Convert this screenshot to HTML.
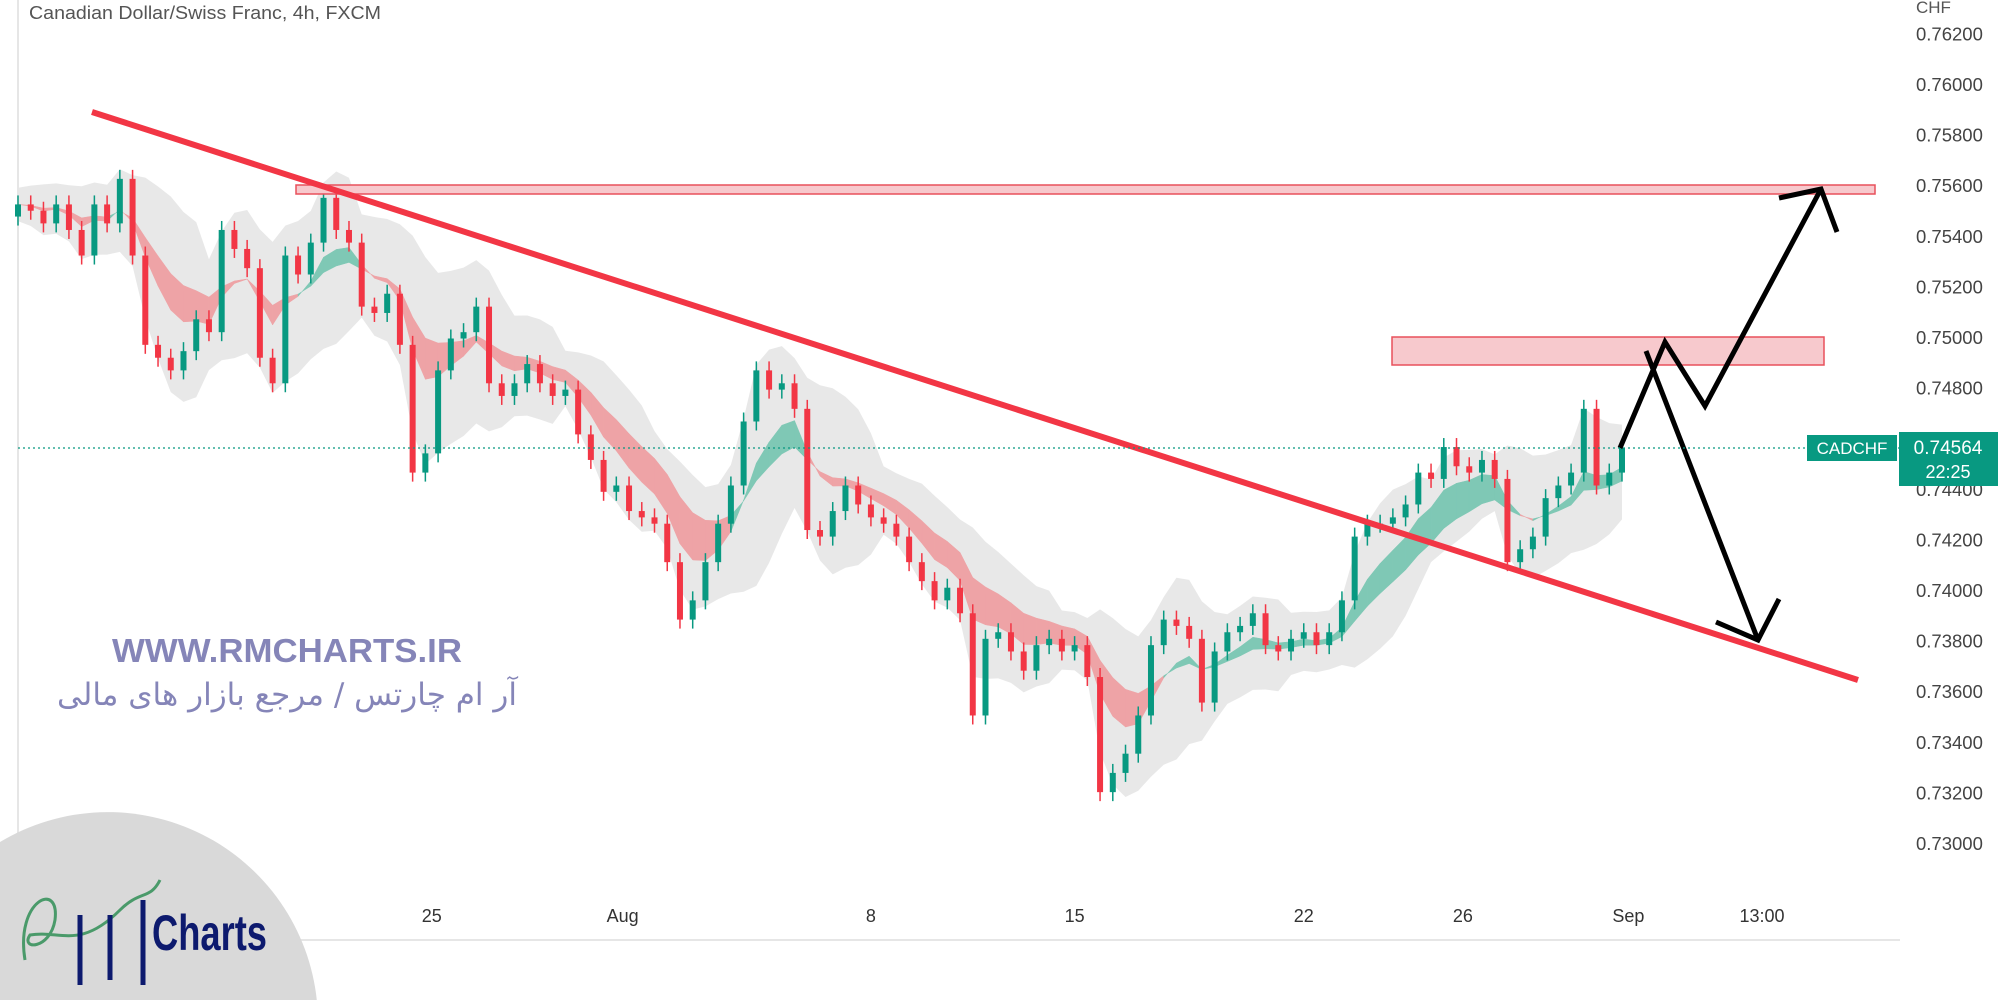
<!DOCTYPE html>
<html><head><meta charset="utf-8"><style>
html,body{margin:0;padding:0;background:#fff;width:2000px;height:1000px;overflow:hidden;}
svg{display:block;font-family:"Liberation Sans","Noto Sans CJK SC",sans-serif;}
</style></head><body>
<svg id="chart" width="2000" height="1000" viewBox="0 0 2000 1000" xmlns="http://www.w3.org/2000/svg">
<rect width="2000" height="1000" fill="#fff"/>
<line x1="18" y1="0" x2="18" y2="940" stroke="#e6e6e6" stroke-width="2"/>
<line x1="0" y1="940" x2="1900" y2="940" stroke="#e6e6e6" stroke-width="2"/>
<g id="bands"></g><g id="candles"></g>
<g id="yaxis"></g><g id="xaxis"></g>
<text x="29" y="19" font-size="18.5" fill="#555" textLength="352" lengthAdjust="spacingAndGlyphs">Canadian Dollar/Swiss Franc, 4h, FXCM</text>
<text x="1916" y="13" font-size="17" fill="#555">CHF</text>
<rect x="296" y="185" width="1579" height="9" fill="#f7c9cd" stroke="#e8505b" stroke-width="1.5"/>
<rect x="1392" y="337" width="432" height="28" fill="#f7c9cd" stroke="#e8505b" stroke-width="1.5"/>
<line x1="92" y1="112" x2="1858" y2="680" stroke="#f23645" stroke-width="6"/>
<g fill="none" stroke="#000" stroke-width="5" stroke-linejoin="miter">
<polyline points="1620,448 1665,342 1705,406 1821,189"/><polyline points="1779,198 1821,189 1837,232"/></g>
<g fill="none" stroke="#000" stroke-width="5">
<polyline points="1646,351 1758,640"/><polyline points="1716,622 1758,640 1779,599"/></g>
<line x1="18" y1="448" x2="1900" y2="448" stroke="#089981" stroke-width="1.2" stroke-dasharray="2,3"/>
<rect x="1807" y="435" width="90" height="26" fill="#089981"/>
<text x="1852" y="454" font-size="17" fill="#fff" text-anchor="middle">CADCHF</text>
<rect x="1899" y="432" width="99" height="54" fill="#089981"/>
<text x="1948" y="454" font-size="19" fill="#fff" text-anchor="middle">0.74564</text>
<text x="1948" y="478" font-size="18" fill="#fff" text-anchor="middle">22:25</text>
<text x="287" y="662" font-size="33" font-weight="bold" fill="#8585b8" text-anchor="middle" textLength="350" lengthAdjust="spacingAndGlyphs">WWW.RMCHARTS.IR</text>
<text x="287" y="705" font-size="31" fill="#8585b8" text-anchor="middle" font-family="'DejaVu Sans',sans-serif" direction="rtl">آر ام چارتس / مرجع بازار های مالی</text>
<path d="M0,842 A210,210 0 0 1 316.8,1000 L0,1000 Z" fill="#d9d9d9"/>
<g>
<path d="M25,960 C15,900 60,880 55,920 C50,950 20,950 30,935 C60,930 80,950 120,910 C140,890 150,900 160,880" fill="none" stroke="#4a9a6a" stroke-width="3"/>
<line x1="80" y1="915" x2="80" y2="985" stroke="#0d1a6e" stroke-width="5"/>
<line x1="110" y1="915" x2="110" y2="980" stroke="#0d1a6e" stroke-width="5"/>
<line x1="143" y1="900" x2="143" y2="985" stroke="#0d1a6e" stroke-width="5"/>
<text x="152" y="950" font-size="50" font-weight="bold" fill="#0d1a6e" textLength="115" lengthAdjust="spacingAndGlyphs">Charts</text>
</g>
</svg>
<script>
const closes=[.75528,.75503,.75453,.75528,.75427,.75326,.75528,.75453,.75629,.75326,.74973,.74922,.74872,.74948,.75074,.75023,.75427,.75352,.75276,.74922,.74821,.75326,.75251,.75377,.75554,.75427,.75377,.75124,.75099,.75175,.74973,.74468,.74544,.74872,.74998,.75023,.75124,.74821,.74771,.74821,.74897,.74821,.74771,.74796,.74619,.74518,.74392,.74417,.74316,.74291,.74266,.74114,.73887,.73963,.74114,.74266,.74417,.7467,.74872,.74796,.74821,.7472,.74241,.74215,.74316,.74417,.74342,.74291,.74266,.74215,.74114,.74039,.73963,.74013,.73912,.73508,.73811,.73837,.73761,.73685,.73786,.73811,.73761,.73786,.7366,.73205,.73281,.73357,.73508,.73786,.73887,.73862,.73811,.73559,.73761,.73837,.73862,.73912,.73786,.73761,.73811,.73837,.73786,.73837,.73963,.74215,.74266,.74266,.74291,.74342,.74468,.74443,.74569,.74493,.74468,.74518,.74443,.74114,.74165,.74215,.74367,.74417,.74468,.7472,.74417,.74468,.74564];
const openFirst=0.75480;
const yTicks=[0.762,0.760,0.758,0.756,0.754,0.752,0.750,0.748,0.746,0.744,0.742,0.740,0.738,0.736,0.734,0.732,0.730];
const xLabels=["25","Aug","8","15","22","26","Sep","13:00"];
const xLabelIdx=[32.5,47.5,67,83,101,113.5,126.5,137];
const NS="http://www.w3.org/2000/svg";
function y(p){return 34.4+(0.762-p)/0.002*50.6;}
const x0=18,x1=1622,n=closes.length;
function x(i){return x0+(x1-x0)*i/(n-1);}
function mk(t,a,parent){const e=document.createElementNS(NS,t);for(const k in a)e.setAttribute(k,a[k]);parent.appendChild(e);return e;}
const ya=document.getElementById('yaxis');
yTicks.forEach(v=>{const t=mk('text',{x:1916,y:y(v)+6,'font-size':18.5,fill:'#444'},ya);


t.textContent=v.toFixed(5);});
const xa=document.getElementById('xaxis');
xLabels.forEach((l,k)=>{const t=mk('text',{x:x(xLabelIdx[k]),y:922,'font-size':18,fill:'#333','text-anchor':'middle'},xa);


t.textContent=l;});
function ema(arr,p){const k=2/(p+1);let e=arr[0];return arr.map(v=>e=v*k+e*(1-k));}
const fast=ema(closes,6),slow=ema(closes,12),mid=ema(closes,8);
const sd=closes.map((c,i)=>{let s=0,m=0,c2=0;for(let j=Math.max(0,i-6);j<=i;j++){m+=closes[j];c2++;}m/=c2;for(let j=Math.max(0,i-6);j<=i;j++)s+=(closes[j]-m)**2;return Math.sqrt(s/c2)+0.0006;});
const bg=document.getElementById('bands');
let up=[],dn=[];for(let i=0;i<n;i++){up.push(x(i)+','+y(mid[i]+sd[i]*1.1));dn.unshift(x(i)+','+y(mid[i]-sd[i]*1.1));}
const cloud=mk('polygon',{points:up.concat(dn).join(' '),fill:'#e6e6e6',opacity:0.9},bg);


for(let i=1;i<n;i++){const g=fast[i]>=slow[i];
const q=mk('polygon',{points:`${x(i-1)},${y(fast[i-1])} ${x(i)},${y(fast[i])} ${x(i)},${y(slow[i])} ${x(i-1)},${y(slow[i-1])}`,fill:g?'#7fc8b5':'#eea3a6',stroke:g?'#7fc8b5':'#eea3a6','stroke-width':0.5},bg);

}
const cg=document.getElementById('candles');
for(let i=0;i<n;i++){const o=i?closes[i-1]:openFirst,c=closes[i];const bull=c>=o;const col=bull?'#089981':'#f23645';
const top=y(Math.max(o,c)),bot=y(Math.min(o,c));
const w=mk('line',{x1:x(i),x2:x(i),y1:top-9,y2:bot+9,stroke:col,'stroke-width':1.5},cg);


const r=mk('rect',{x:x(i)-3,y:top,width:6,height:Math.max(1.5,bot-top),fill:col},cg);

}
</script>
</body></html>
